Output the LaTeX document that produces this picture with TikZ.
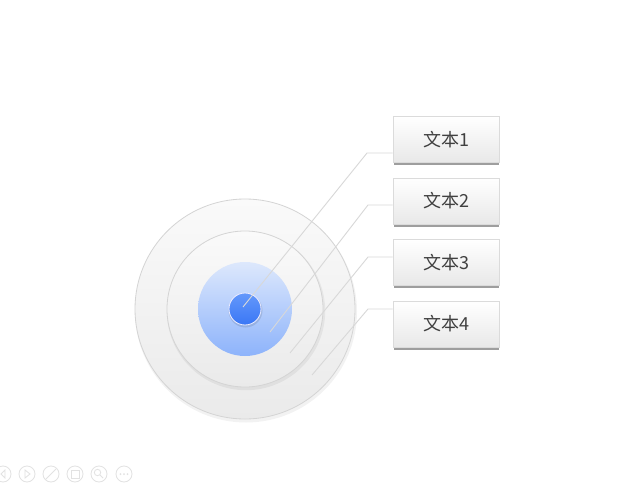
\documentclass[tikz,border=0pt]{standalone}
\usepackage{fontspec}
\newfontfamily\cjk{Noto Sans CJK SC}
\usetikzlibrary{shadows}
\definecolor{ringedge}{HTML}{D4D4D4}
\definecolor{ringtop}{HTML}{FAFAFA}
\definecolor{ringbot}{HTML}{EAEAEA}
\definecolor{bluetop}{HTML}{DDE8FC}
\definecolor{bluebot}{HTML}{8DB3FB}
\definecolor{dottop}{HTML}{6498FB}
\definecolor{dotbot}{HTML}{3A77F5}
\definecolor{linec}{HTML}{D8D8D8}
\definecolor{txt}{HTML}{404040}
\definecolor{iconc}{HTML}{E2E2E2}
\tikzset{
  ring/.style={top color=ringtop, bottom color=ringbot, draw=ringedge, line width=0.8pt},
  ringshadow/.style={fill=black, opacity=0.05},
  label box/.style={minimum width=106pt, minimum height=46pt, inner sep=0pt,
    top color=white, bottom color=black!9, draw=black!14, line width=0.6pt,
    font=\cjk\fontsize{18}{21}\selectfont, text=txt},
  lead/.style={draw=linec, line width=0.9pt},
  icon/.style={draw=iconc, line width=0.8pt}
}
\begin{document}
\begin{tikzpicture}[x=1pt,y=-1pt]
\useasboundingbox (0,0) rectangle (635,484);
\fill[white] (0,0) rectangle (635,484);
% rings
\fill[ringshadow] (246,311.5) circle (111);
\shade[ring] (245,309) circle (110);
\fill[ringshadow] (246,311) circle (79.2);
\shade[ring] (245,309) circle (78);
\shade[top color=bluetop, bottom color=bluebot] (245,309) circle (47);
\fill[black, opacity=0.10] (245.5,310.5) circle (17);
\shade[top color=dottop, bottom color=dotbot, draw=white!75!blue!30, line width=0.8pt] (245,309) circle (16);
% boxes
\foreach \i/\y in {1/139.5,2/201,3/262.5,4/324}{
  \fill[black!38] (393.5,\y+23) rectangle (498.5,\y+25.5);
  \node[label box] (b\i) at (446,\y) {文本\i};
}
% connectors
\coordinate (k1) at (367,153); \coordinate (e1) at (243,307);
\coordinate (k2) at (368,205); \coordinate (e2) at (270,332);
\coordinate (k3) at (368,257); \coordinate (e3) at (290,353);
\coordinate (k4) at (368,309); \coordinate (e4) at (312,375);
\foreach \i in {1,2,3,4}{
  \draw[lead] (b\i.west |- k\i) -- (k\i) -- (e\i);
}
% faint toolbar
\foreach \i/\x in {1/3,2/27,3/51,4/75,5/99,6/124}{
  \node[icon, circle, minimum size=16pt, inner sep=0pt] (t\i) at (\x,474) {};
}
\draw[icon] (5,470) -- (1,474) -- (5,478) -- cycle;
\draw[icon] (25,470) -- (30,474) -- (25,478) -- cycle;
\draw[icon] (46,479) -- (56,469);
\draw[icon] (71,470) rectangle (79,478);
\draw[icon] (97.5,472.5) circle (3.2) (100,475) -- (103,478);
\fill[iconc] (120.5,474) circle (1) (124,474) circle (1) (127.5,474) circle (1);
\end{tikzpicture}
\end{document}
